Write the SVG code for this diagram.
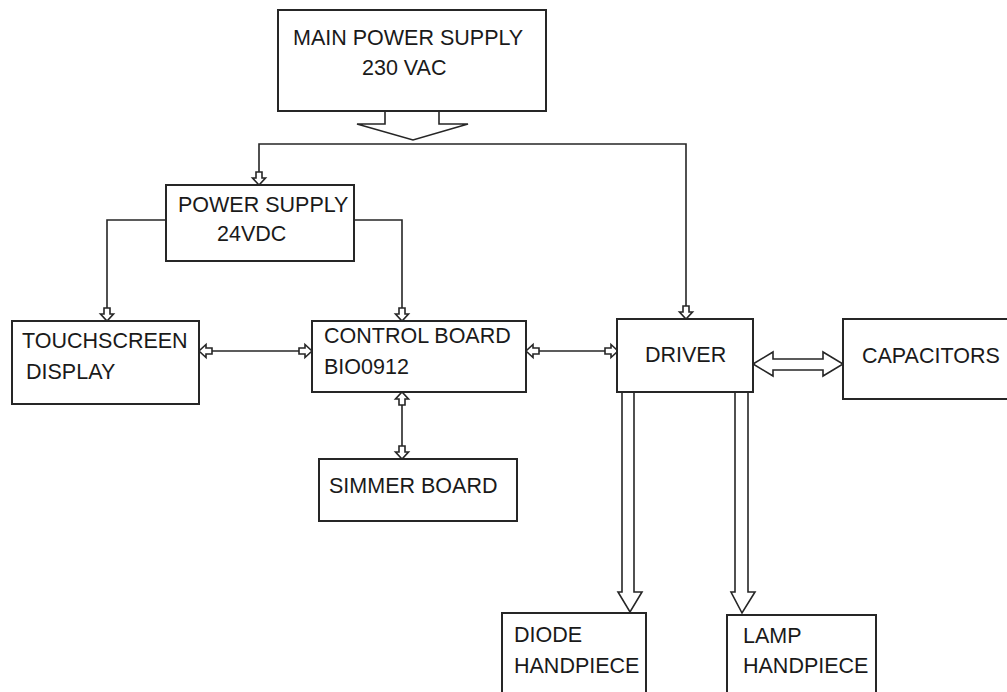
<svg xmlns="http://www.w3.org/2000/svg" xmlns:xlink="http://www.w3.org/1999/xlink" width="1007" height="692" viewBox="0 0 1007 692">
<style>
.box{fill:#fff;stroke:#262626;stroke-width:2}
.t{font-family:"Liberation Sans",Arial,sans-serif;font-size:21.5px;fill:#1a1a1a}
.ln{fill:none;stroke:#262626;stroke-width:1.6}
.ba{fill:#fff;stroke:#262626;stroke-width:1.6;stroke-linejoin:miter}
</style>
<defs>
<path id="ah" class="ba" d="M-3,-13 L3,-13 L3,-7 L6.5,-7 L0,0 L-6.5,-7 L-3,-7 Z"/>
</defs>
<rect width="1007" height="692" fill="#fff"/>
<g id="connectors">
<polyline class="ln" points="259,174 259,144 686,144 686,306"/>
<polyline class="ln" points="166,220 107,220 107,308"/>
<polyline class="ln" points="354,220 402,220 402,308"/>
<line class="ln" x1="210" y1="351" x2="301" y2="351"/>
<line class="ln" x1="537" y1="351" x2="607" y2="351"/>
<line class="ln" x1="402" y1="403" x2="402" y2="448"/>
<use xlink:href="#ah" transform="translate(259,185)"/>
<use xlink:href="#ah" transform="translate(107,321)"/>
<use xlink:href="#ah" transform="translate(402,321)"/>
<use xlink:href="#ah" transform="translate(686,319)"/>
<use xlink:href="#ah" transform="translate(199,351) rotate(90)"/>
<use xlink:href="#ah" transform="translate(312,351) rotate(-90)"/>
<use xlink:href="#ah" transform="translate(526,351) rotate(90)"/>
<use xlink:href="#ah" transform="translate(618,351) rotate(-90)"/>
<use xlink:href="#ah" transform="translate(402,392) rotate(180)"/>
<use xlink:href="#ah" transform="translate(402,459)"/>
<path class="ba" d="M385,111 L385,124 L357,124 L413,140 L468,124 L439,124 L439,111"/>
<path class="ba" d="M753,364 L773,352 L773,359 L823,359 L823,352 L843,364 L823,376 L823,370 L773,370 L773,376 Z"/>
<path class="ba" d="M622,392 L622,592 L618,592 L630,612 L642,592 L634,592 L634,392"/>
<path class="ba" d="M735,392 L735,592 L731,592 L742,613 L755,592 L748,592 L748,392"/>
</g>
<g id="main-power">
<rect class="box" x="278" y="10" width="268" height="101"/>
<text class="t" x="293" y="45">MAIN POWER SUPPLY</text>
<text class="t" x="362" y="75">230 VAC</text>
</g>
<g id="power-supply">
<rect class="box" x="166" y="185" width="188" height="76"/>
<text class="t" x="178" y="212">POWER SUPPLY</text>
<text class="t" x="217" y="241">24VDC</text>
</g>
<g id="touchscreen">
<rect class="box" x="12" y="321" width="187" height="83"/>
<text class="t" x="22" y="348">TOUCHSCREEN</text>
<text class="t" x="26" y="379">DISPLAY</text>
</g>
<g id="control-board">
<rect class="box" x="312" y="321" width="214" height="71"/>
<text class="t" x="324" y="343">CONTROL BOARD</text>
<text class="t" x="324" y="374">BIO0912</text>
</g>
<g id="simmer-board">
<rect class="box" x="319" y="459" width="198" height="62"/>
<text class="t" x="329" y="493">SIMMER BOARD</text>
</g>
<g id="driver">
<rect class="box" x="617" y="319" width="136" height="73"/>
<text class="t" x="645" y="362">DRIVER</text>
</g>
<g id="capacitors">
<rect class="box" x="843" y="319" width="170" height="80"/>
<text class="t" x="862" y="363">CAPACITORS</text>
</g>
<g id="diode-handpiece">
<rect class="box" x="502" y="613" width="144" height="90"/>
<text class="t" x="514" y="642">DIODE</text>
<text class="t" x="514" y="673">HANDPIECE</text>
</g>
<g id="lamp-handpiece">
<rect class="box" x="727" y="615" width="149" height="90"/>
<text class="t" x="743" y="643">LAMP</text>
<text class="t" x="743" y="673">HANDPIECE</text>
</g>
</svg>
